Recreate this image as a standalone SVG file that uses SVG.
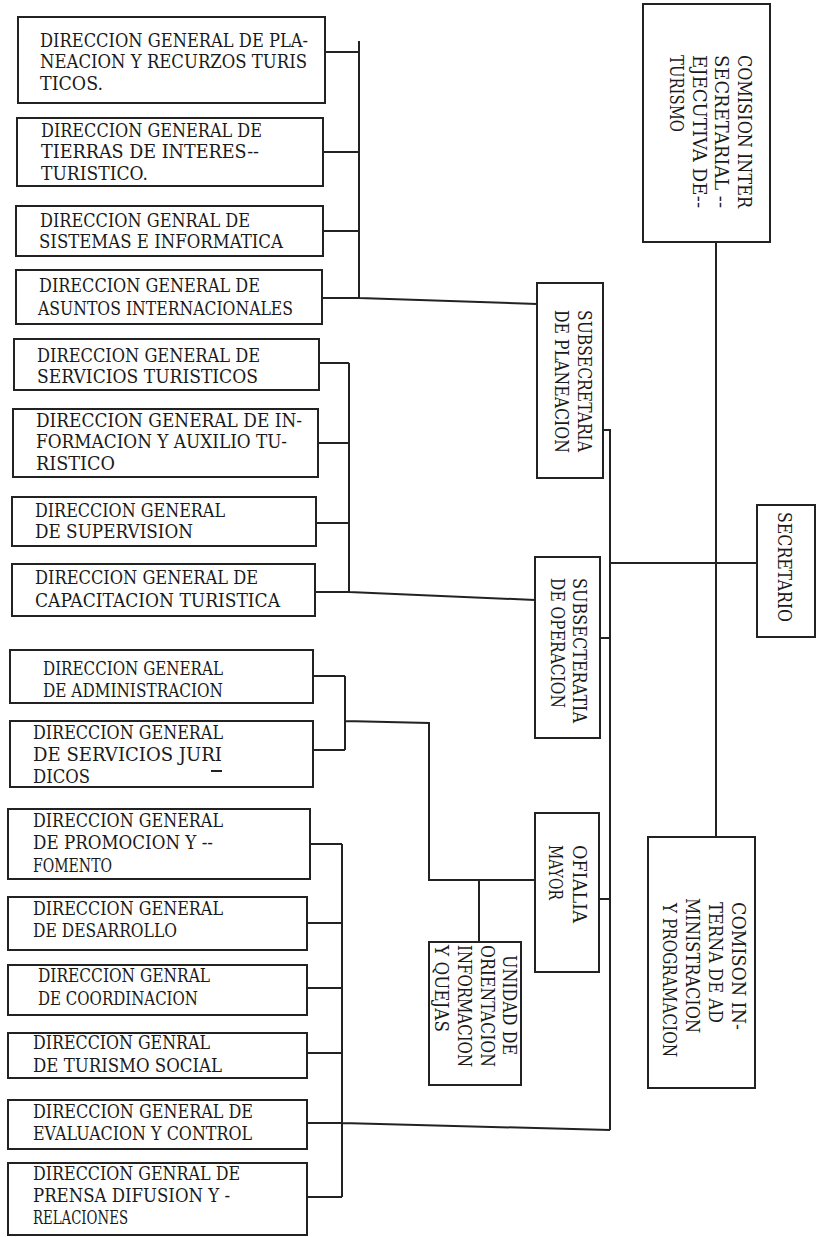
<svg xmlns="http://www.w3.org/2000/svg" width="817" height="1237" viewBox="0 0 817 1237">
<style>
rect.box{fill:#fff;stroke:#222;stroke-width:2}
.c{fill:none;stroke:#222;stroke-width:2}
text{font-family:"DejaVu Serif","Liberation Serif",serif;font-size:18px;fill:#1a1a1a}
</style>
<rect width="817" height="1237" fill="#fff"/>
<g id="connectors" class="c">
<path d="M359,41 V298 M325,52 H359 M323,152 H359 M323,231 H359 M322,298 H359 L537,304"/>
<path d="M349,363 V592 M319,363 H349 M318,443 H349 M316,523 H349 M315,592 H349 L535,600"/>
<path d="M345,676 V750 M313,676 H345 M313,750 H345 M345,721 L429,723 V880 H535 M479,880 V942"/>
<path d="M342,844 V1197 M310,844 H342 M307,923 H342 M307,988 H342 M307,1053 H342 M307,1197 H342 M307,1123 H342 L610,1130"/>
<path d="M603,430 H610 V1130 M600,638 H610 M599,899 H610 M610,563 H758"/>
<path d="M716,242 V837"/>
</g>
<g id="n1"><rect class="box" x="18" y="17" width="307" height="86"/>
<text x="40" y="47" textLength="268" lengthAdjust="spacingAndGlyphs">DIRECCION GENERAL DE PLA-</text>
<text x="40" y="68" textLength="267" lengthAdjust="spacingAndGlyphs">NEACION Y RECURZOS TURIS</text>
<text x="40" y="90" textLength="63" lengthAdjust="spacingAndGlyphs">TICOS.</text></g>
<g id="n2"><rect class="box" x="17" y="118" width="306" height="68"/>
<text x="41" y="137" textLength="221" lengthAdjust="spacingAndGlyphs">DIRECCION GENERAL DE</text>
<text x="41" y="158" textLength="218" lengthAdjust="spacingAndGlyphs">TIERRAS DE INTERES--</text>
<text x="41" y="180" textLength="107" lengthAdjust="spacingAndGlyphs">TURISTICO.</text></g>
<g id="n3"><rect class="box" x="16" y="206" width="307" height="50"/>
<text x="40" y="227" textLength="210" lengthAdjust="spacingAndGlyphs">DIRECCION GENRAL DE</text>
<text x="39" y="248" textLength="244" lengthAdjust="spacingAndGlyphs">SISTEMAS E INFORMATICA</text></g>
<g id="n4"><rect class="box" x="16" y="270" width="306" height="54"/>
<text x="39" y="292" textLength="221" lengthAdjust="spacingAndGlyphs">DIRECCION GENERAL DE</text>
<text x="38" y="315" textLength="255" lengthAdjust="spacingAndGlyphs">ASUNTOS INTERNACIONALES</text></g>
<g id="n5"><rect class="box" x="14" y="339" width="305" height="51"/>
<text x="37" y="362" textLength="223" lengthAdjust="spacingAndGlyphs">DIRECCION GENERAL DE</text>
<text x="37" y="383" textLength="221" lengthAdjust="spacingAndGlyphs">SERVICIOS TURISTICOS</text></g>
<g id="n6"><rect class="box" x="13" y="409" width="305" height="68"/>
<text x="36" y="427" textLength="266" lengthAdjust="spacingAndGlyphs">DIRECCION GENERAL DE IN-</text>
<text x="36" y="448" textLength="251" lengthAdjust="spacingAndGlyphs">FORMACION Y AUXILIO TU-</text>
<text x="36" y="470" textLength="79" lengthAdjust="spacingAndGlyphs">RISTICO</text></g>
<g id="n7"><rect class="box" x="12" y="497" width="304" height="49"/>
<text x="35" y="517" textLength="190" lengthAdjust="spacingAndGlyphs">DIRECCION GENERAL</text>
<text x="35" y="538" textLength="158" lengthAdjust="spacingAndGlyphs">DE SUPERVISION</text></g>
<g id="n8"><rect class="box" x="12" y="564" width="303" height="52"/>
<text x="35" y="584" textLength="223" lengthAdjust="spacingAndGlyphs">DIRECCION GENERAL DE</text>
<text x="35" y="607" textLength="245" lengthAdjust="spacingAndGlyphs">CAPACITACION TURISTICA</text></g>
<g id="n9"><rect class="box" x="10" y="650" width="303" height="53"/>
<text x="43" y="675" textLength="180" lengthAdjust="spacingAndGlyphs">DIRECCION GENERAL</text>
<text x="43" y="697" textLength="180" lengthAdjust="spacingAndGlyphs">DE ADMINISTRACION</text></g>
<g id="n10"><rect class="box" x="10" y="721" width="303" height="66"/>
<text x="33" y="739" textLength="190" lengthAdjust="spacingAndGlyphs">DIRECCION GENERAL</text>
<text x="33" y="761" textLength="189" lengthAdjust="spacingAndGlyphs">DE SERVICIOS JURI</text>
<path class="c" d="M211,771 H222"/>
<text x="33" y="783" textLength="57" lengthAdjust="spacingAndGlyphs">DICOS</text></g>
<g id="n11"><rect class="box" x="8" y="809" width="302" height="70"/>
<text x="33" y="827" textLength="190" lengthAdjust="spacingAndGlyphs">DIRECCION GENERAL</text>
<text x="33" y="849" textLength="180" lengthAdjust="spacingAndGlyphs">DE PROMOCION Y --</text>
<text x="33" y="872" textLength="79" lengthAdjust="spacingAndGlyphs">FOMENTO</text></g>
<g id="n12"><rect class="box" x="8" y="897" width="299" height="53"/>
<text x="33" y="915" textLength="190" lengthAdjust="spacingAndGlyphs">DIRECCION GENERAL</text>
<text x="33" y="937" textLength="144" lengthAdjust="spacingAndGlyphs">DE DESARROLLO</text></g>
<g id="n13"><rect class="box" x="8" y="965" width="299" height="50"/>
<text x="38" y="982" textLength="172" lengthAdjust="spacingAndGlyphs">DIRECCION GENRAL</text>
<text x="38" y="1005" textLength="160" lengthAdjust="spacingAndGlyphs">DE COORDINACION</text></g>
<g id="n14"><rect class="box" x="8" y="1033" width="299" height="45"/>
<text x="33" y="1049" textLength="177" lengthAdjust="spacingAndGlyphs">DIRECCION GENRAL</text>
<text x="33" y="1072" textLength="189" lengthAdjust="spacingAndGlyphs">DE TURISMO SOCIAL</text></g>
<g id="n15"><rect class="box" x="8" y="1100" width="299" height="49"/>
<text x="33" y="1118" textLength="220" lengthAdjust="spacingAndGlyphs">DIRECCION GENERAL DE</text>
<text x="33" y="1140" textLength="219" lengthAdjust="spacingAndGlyphs">EVALUACION Y CONTROL</text></g>
<g id="n16"><rect class="box" x="8" y="1163" width="299" height="72"/>
<text x="33" y="1180" textLength="207" lengthAdjust="spacingAndGlyphs">DIRECCION GENRAL DE</text>
<text x="33" y="1202" textLength="197" lengthAdjust="spacingAndGlyphs">PRENSA DIFUSION Y -</text>
<text x="33" y="1224" textLength="95" lengthAdjust="spacingAndGlyphs">RELACIONES</text></g>
<g id="comision-inter"><rect class="box" x="643" y="4" width="127" height="238"/>
<text transform="translate(738,55) rotate(90)" textLength="153" lengthAdjust="spacingAndGlyphs">COMISION INTER</text>
<text transform="translate(715,55) rotate(90)" textLength="153" lengthAdjust="spacingAndGlyphs">SECRETARIAL --</text>
<text transform="translate(693,55) rotate(90)" textLength="153" lengthAdjust="spacingAndGlyphs">EJECUTIVA DE--</text>
<text transform="translate(670,55) rotate(90)" textLength="77" lengthAdjust="spacingAndGlyphs">TURISMO</text></g>
<g id="subsec-planeacion"><rect class="box" x="537" y="283" width="66" height="195"/>
<text transform="translate(578,310) rotate(90)" textLength="142" lengthAdjust="spacingAndGlyphs">SUBSECRETARIA</text>
<text transform="translate(555,310) rotate(90)" textLength="143" lengthAdjust="spacingAndGlyphs">DE PLANEACION</text></g>
<g id="secretario"><rect class="box" x="757" y="505" width="58" height="132"/>
<text transform="translate(778,512) rotate(90)" textLength="110" lengthAdjust="spacingAndGlyphs">SECRETARIO</text></g>
<g id="subsec-operacion"><rect class="box" x="535" y="557" width="65" height="181"/>
<text transform="translate(573,578) rotate(90)" textLength="145" lengthAdjust="spacingAndGlyphs">SUBSECTERATIA</text>
<text transform="translate(551,578) rotate(90)" textLength="130" lengthAdjust="spacingAndGlyphs">DE OPERACION</text></g>
<g id="oficialia"><rect class="box" x="535" y="813" width="64" height="159"/>
<text transform="translate(573,845) rotate(90)" textLength="78" lengthAdjust="spacingAndGlyphs">OFIALIA</text>
<text transform="translate(549,845) rotate(90)" textLength="55" lengthAdjust="spacingAndGlyphs">MAYOR</text></g>
<g id="unidad"><rect class="box" x="429" y="942" width="92" height="143"/>
<text transform="translate(503,955) rotate(90)" textLength="100" lengthAdjust="spacingAndGlyphs">UNIDAD DE</text>
<text transform="translate(481,945) rotate(90)" textLength="122" lengthAdjust="spacingAndGlyphs">ORIENTACION</text>
<text transform="translate(458,945) rotate(90)" textLength="122" lengthAdjust="spacingAndGlyphs">INFORMACION</text>
<text transform="translate(435,945) rotate(90)" textLength="87" lengthAdjust="spacingAndGlyphs">Y QUEJAS</text></g>
<g id="comision-interna"><rect class="box" x="648" y="837" width="107" height="251"/>
<text transform="translate(732,902) rotate(90)" textLength="128" lengthAdjust="spacingAndGlyphs">COMISON IN-</text>
<text transform="translate(709,902) rotate(90)" textLength="121" lengthAdjust="spacingAndGlyphs">TERNA DE AD</text>
<text transform="translate(686,898) rotate(90)" textLength="135" lengthAdjust="spacingAndGlyphs">MINISTRACION</text>
<text transform="translate(663,903) rotate(90)" textLength="154" lengthAdjust="spacingAndGlyphs">Y PROGRAMACION</text></g>
</svg>
